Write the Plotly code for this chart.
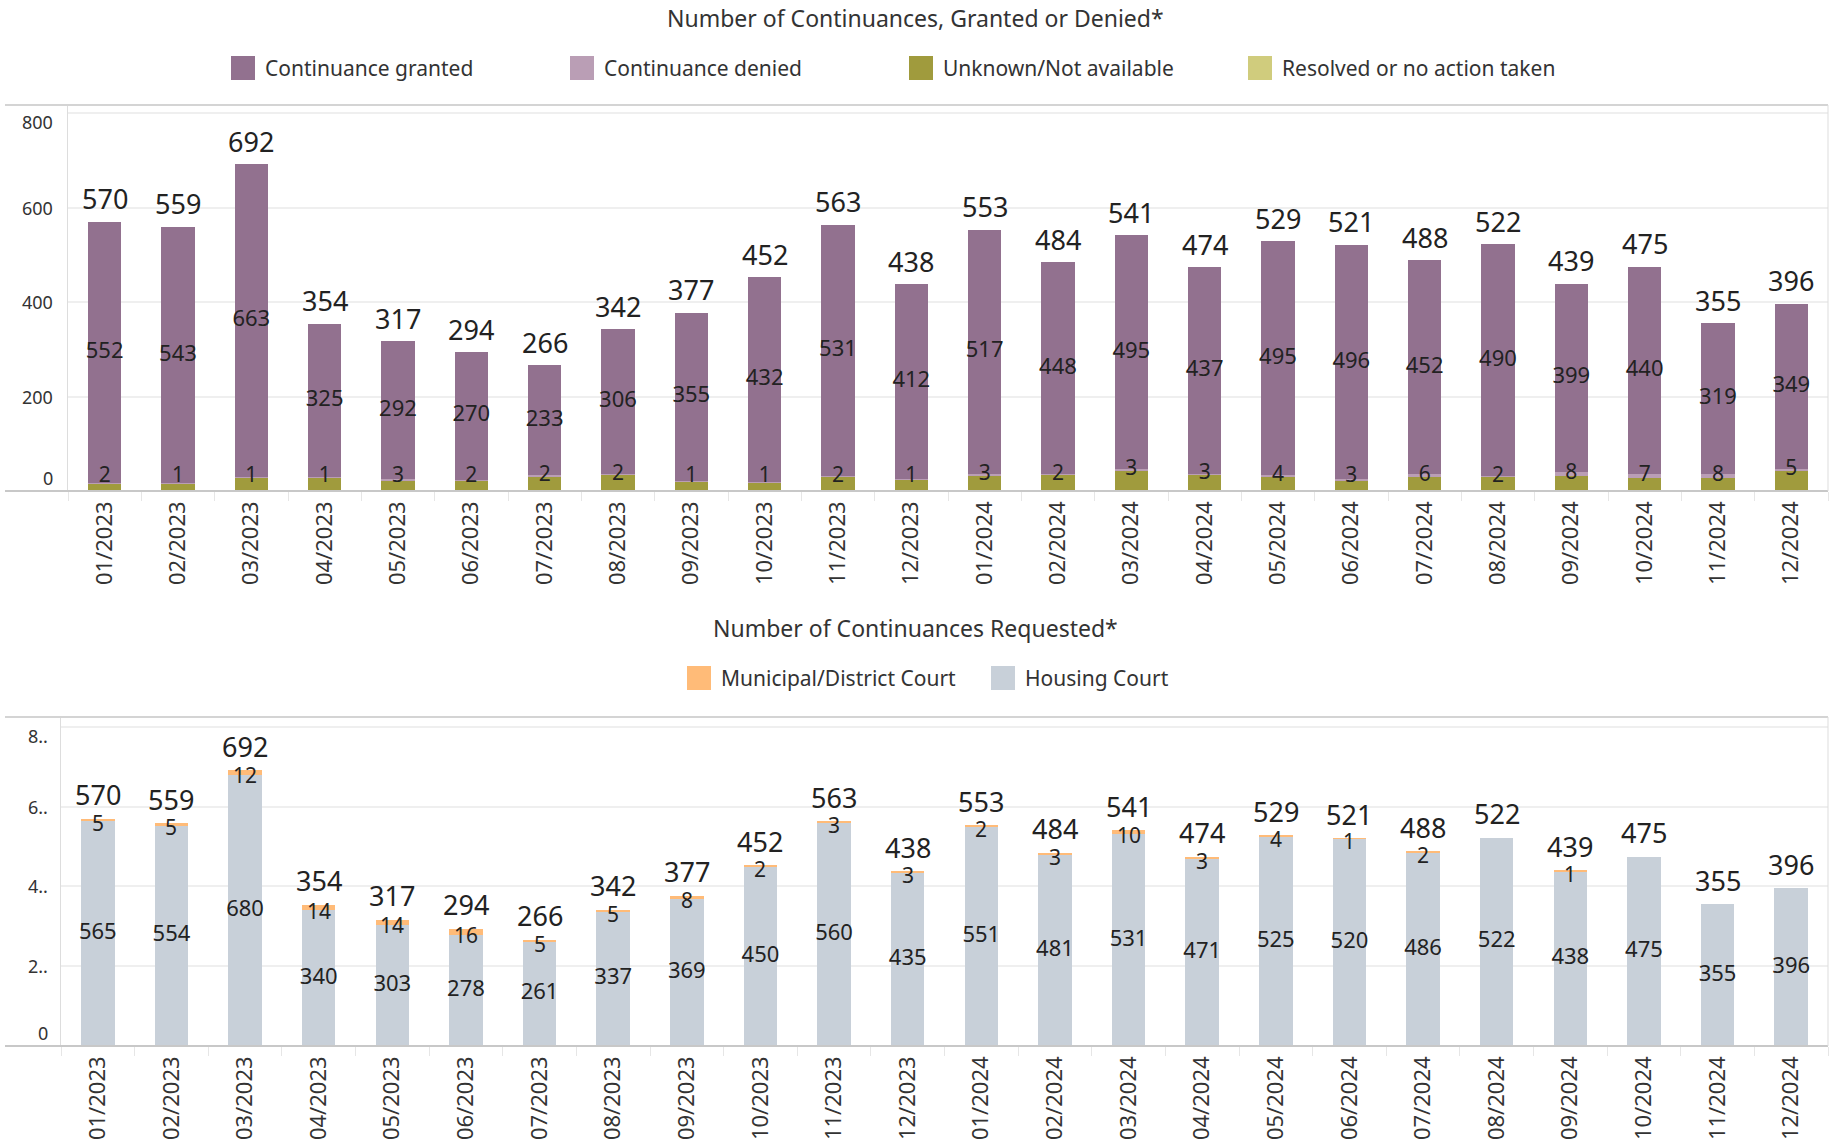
import plotly.graph_objects as go

# ---------------- data ----------------
months = ["01/2023", "02/2023", "03/2023", "04/2023", "05/2023", "06/2023",
          "07/2023", "08/2023", "09/2023", "10/2023", "11/2023", "12/2023",
          "01/2024", "02/2024", "03/2024", "04/2024", "05/2024", "06/2024",
          "07/2024", "08/2024", "09/2024", "10/2024", "11/2024", "12/2024"]

# Top chart: Number of Continuances, Granted or Denied*
granted = [552, 543, 663, 325, 292, 270, 233, 306, 355, 432, 531, 412,
           517, 448, 495, 437, 495, 496, 452, 490, 399, 440, 319, 349]
denied = [2, 1, 1, 1, 3, 2, 2, 2, 1, 1, 2, 1,
          3, 2, 3, 3, 4, 3, 6, 2, 8, 7, 8, 5]
unknown = [16, 15, 28, 28, 22, 22, 31, 34, 21, 19, 30, 25,
           33, 34, 43, 34, 30, 22, 30, 30, 32, 28, 28, 42]
resolved = [0, 0, 0, 0, 0, 0, 0, 0, 0, 0, 0, 0,
            0, 0, 0, 0, 0, 0, 0, 0, 0, 0, 0, 0]
totals_top = [570, 559, 692, 354, 317, 294, 266, 342, 377, 452, 563, 438,
              553, 484, 541, 474, 529, 521, 488, 522, 439, 475, 355, 396]

# Bottom chart: Number of Continuances Requested*
housing = [565, 554, 680, 340, 303, 278, 261, 337, 369, 450, 560, 435,
           551, 481, 531, 471, 525, 520, 486, 522, 438, 475, 355, 396]
municipal = [5, 5, 12, 14, 14, 16, 5, 5, 8, 2, 3, 3,
             2, 3, 10, 3, 4, 1, 2, None, 1, None, None, None]
totals_bottom = [570, 559, 692, 354, 317, 294, 266, 342, 377, 452, 563, 438,
                 553, 484, 541, 474, 529, 521, 488, 522, 439, 475, 355, 396]

top_ticks = [0, 200, 400, 600, 800]
top_ticktext = ["0", "200", "400", "600", "800"]
bottom_ticks = [0, 200, 400, 600, 800]
bottom_ticktext = ["0", "2..", "4..", "6..", "8.."]

# ---------------- style ----------------
W, H = 1830, 1142
FONT = "Noto Sans"
TXT = "#222222"
C_GRANTED = "#92718F"
C_DENIED = "#BA9EB5"
C_UNKNOWN = "#A09B3D"
C_RESOLVED = "#D0CC7D"
C_MUNI = "#FFBB78"
C_HOUSING = "#C8D0D9"


def px(x):
    return x / W


def py(y):
    return 1 - y / H


fig = go.Figure()
annotations = []
shapes = []

# top chart bars (stack bottom -> top)
for name, vals, col in [("Unknown/Not available", unknown, C_UNKNOWN),
                        ("Continuance denied", denied, C_DENIED),
                        ("Continuance granted", granted, C_GRANTED),
                        ("Resolved or no action taken", resolved, C_RESOLVED)]:
    fig.add_trace(go.Bar(x=months, y=vals, name=name, marker_color=col,
                         marker_line_width=0, xaxis="x", yaxis="y",
                         showlegend=False, hoverinfo="x+y+name"))

# top chart labels
fig.add_trace(go.Scatter(x=months,
                         y=[u + d + g / 2 for u, d, g in zip(unknown, denied, granted)],
                         mode="text", text=[str(v) for v in granted],
                         textposition="middle center",
                         textfont=dict(family=FONT, size=22, color=TXT),
                         xaxis="x", yaxis="y", showlegend=False, hoverinfo="skip"))
fig.add_trace(go.Scatter(x=months,
                         y=[max(u + d / 2, 31) for u, d in zip(unknown, denied)],
                         mode="text", text=[str(v) for v in denied],
                         textposition="middle center",
                         textfont=dict(family=FONT, size=21, color=TXT),
                         xaxis="x", yaxis="y", showlegend=False, hoverinfo="skip"))
for m, t in zip(months, totals_top):
    annotations.append(dict(xref="x", yref="y", x=m, y=t, text=str(t), showarrow=False,
                            xanchor="center", yanchor="middle", yshift=23,
                            font=dict(family=FONT, size=27, color=TXT)))

# bottom chart bars
fig.add_trace(go.Bar(x=months, y=housing, name="Housing Court", marker_color=C_HOUSING,
                     marker_line_width=0, xaxis="x2", yaxis="y2", showlegend=False))
fig.add_trace(go.Bar(x=months, y=municipal, name="Municipal/District Court",
                     marker_color=C_MUNI, marker_line_width=0,
                     xaxis="x2", yaxis="y2", showlegend=False))

fig.add_trace(go.Scatter(x=months, y=[h / 2 for h in housing], mode="text",
                         text=[str(v) for v in housing],
                         textposition="middle center",
                         textfont=dict(family=FONT, size=22, color=TXT),
                         xaxis="x2", yaxis="y2", showlegend=False, hoverinfo="skip"))
for m, t in zip(months, totals_bottom):
    annotations.append(dict(xref="x2", yref="y2", x=m, y=t, text=str(t), showarrow=False,
                            xanchor="center", yanchor="middle", yshift=24,
                            font=dict(family=FONT, size=27, color=TXT)))
for m, h, v in zip(months, housing, municipal):
    if v:
        annotations.append(dict(xref="x2", yref="y2", x=m, y=h + v / 2, text=str(v),
                                showarrow=False, xanchor="center", yanchor="middle",
                                yshift=-3, borderpad=0,
                                font=dict(family=FONT, size=21, color=TXT)))

# axes
xcommon = dict(type="category", tickangle=-90, showgrid=False, zeroline=False,
               ticks="outside", tickson="boundaries", ticklen=9, tickcolor="#e6e6e6",
               tickwidth=1, tickfont=dict(family=FONT, size=22, color="#333333"),
               ticklabelstandoff=5,
               showline=False, fixedrange=True, range=[-0.5, len(months) - 0.5],
               autorange=False)
ycommon = dict(showgrid=True, gridcolor="#efefef", gridwidth=2, zeroline=False,
               showticklabels=False, ticks="", showline=True, linecolor="#dddddd",
               linewidth=1, fixedrange=True)

fig.update_layout(
    width=W, height=H,
    margin=dict(l=0, r=0, t=0, b=0),
    paper_bgcolor="white", plot_bgcolor="white",
    barmode="stack", bargap=0.545,
    font=dict(family=FONT, color="#333333"),
    xaxis=dict(domain=[px(68), px(1828)], anchor="y", **xcommon),
    yaxis=dict(domain=[py(491), py(105)], range=[0, 817], tickvals=top_ticks,
               anchor="x", **ycommon),
    xaxis2=dict(domain=[px(61), px(1828)], anchor="y2", **xcommon),
    yaxis2=dict(domain=[py(1046), py(717)], range=[0, 825], tickvals=bottom_ticks,
                anchor="x2", **ycommon),
)

# frames
for (left, top, bottom) in [(5, 105, 491), (5, 717, 1046)]:
    shapes.append(dict(type="line", xref="paper", yref="paper", x0=px(left), x1=px(1828),
                       y0=py(top), y1=py(top), line=dict(color="#d4d4d4", width=2)))
    shapes.append(dict(type="line", xref="paper", yref="paper", x0=px(left), x1=px(1828),
                       y0=py(bottom), y1=py(bottom), line=dict(color="#c8c8c8", width=2)))
    shapes.append(dict(type="line", xref="paper", yref="paper", x0=px(1828), x1=px(1828),
                       y0=py(top), y1=py(bottom), line=dict(color="#dddddd", width=1)))

# y tick labels (shifted inward at the extremes, as in the reference)
for yref, vals, texts, xr in [("y", top_ticks, top_ticktext, 55),
                              ("y2", bottom_ticks, bottom_ticktext, 50)]:
    for v, t in zip(vals, texts):
        shift = 0
        if v == vals[0]:
            shift = 13
        elif v == vals[-1]:
            shift = -9
        annotations.append(dict(xref="paper", yref=yref, x=px(xr), y=v, text=t,
                                xanchor="right", yanchor="middle", showarrow=False,
                                yshift=shift, font=dict(family=FONT, size=18, color="#333333")))

# titles
annotations.append(dict(xref="paper", yref="paper", x=px(915), y=py(18),
                        text="Number of Continuances, Granted or Denied*",
                        showarrow=False, xanchor="center", yanchor="middle",
                        font=dict(family=FONT, size=23, color="#333333")))
annotations.append(dict(xref="paper", yref="paper", x=px(915), y=py(628),
                        text="Number of Continuances Requested*",
                        showarrow=False, xanchor="center", yanchor="middle",
                        font=dict(family=FONT, size=23, color="#333333")))

# legends
legend_items = [
    (231, 68, C_GRANTED, "Continuance granted"),
    (570, 68, C_DENIED, "Continuance denied"),
    (909, 68, C_UNKNOWN, "Unknown/Not available"),
    (1248, 68, C_RESOLVED, "Resolved or no action taken"),
    (687, 678, C_MUNI, "Municipal/District Court"),
    (991, 678, C_HOUSING, "Housing Court"),
]
for x0, yc, col, label in legend_items:
    shapes.append(dict(type="rect", xref="paper", yref="paper",
                       x0=px(x0), x1=px(x0 + 24), y0=py(yc - 12), y1=py(yc + 12),
                       fillcolor=col, line=dict(width=0)))
    annotations.append(dict(xref="paper", yref="paper", x=px(x0 + 32), y=py(yc),
                            text=label, showarrow=False, xanchor="left", yanchor="middle",
                            font=dict(family=FONT, size=21, color="#333333")))

fig.update_layout(shapes=shapes, annotations=annotations)

fig.write_html("out.html", config={"displayModeBar": False},
               post_script="document.body.style.margin='0';")
